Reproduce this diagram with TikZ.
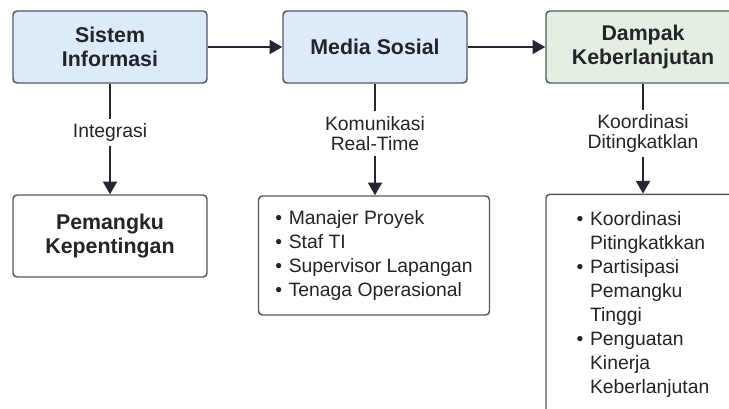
\documentclass[tikz,border=0pt]{standalone}
\usepackage{fontspec}
\setmainfont{Liberation Sans}
\usetikzlibrary{arrows.meta}

\begin{document}
\begin{tikzpicture}[x=0.75pt,y=0.75pt,yscale=-1,xscale=1,
  box/.style={draw={rgb, 255:red, 84; green, 88; blue, 96}, line width=1.1pt, rounded corners=3pt, align=center, inner sep=0pt, text={rgb, 255:red, 34; green, 36; blue, 40}, minimum width=145.5pt},
  headbox/.style={box, font=\fontsize{16}{18.5}\selectfont\bfseries, minimum height=54pt},
  listbox/.style={box, fill=white, font=\fontsize{14.5}{18}\selectfont},
  lbl/.style={align=center, inner xsep=2pt, inner ysep=3.5pt, font=\fontsize{14.5}{15}\selectfont, text={rgb, 255:red, 34; green, 36; blue, 40}},
  link/.style={line width=1.5pt, draw={rgb, 255:red, 36; green, 39; blue, 50}},
  arr/.style={link, -{Triangle[width=10.5pt,length=9.5pt]}}
]
\useasboundingbox (0,0) rectangle (729,409);

%Shape: top row
\node [headbox, fill={rgb, 255:red, 220; green, 234; blue, 249}] (sis) at (110,47) {Sistem\\Informasi};
\node [headbox, fill={rgb, 255:red, 220; green, 234; blue, 249}, minimum width=138pt] (med) at (375,47) {Media Sosial};
\node [headbox, fill={rgb, 255:red, 227; green, 240; blue, 225}] (dam) at (643,47) {Dampak\\Keberlanjutan};

% Text Node
\node [lbl] (int) at (110,132.5) {Integrasi};
\node [lbl] (kom) at (375,133.5) {Komunikasi\\Real-Time};
\node [lbl] (koo) at (643,133.5) {Koordinasi\\Ditingkatklan};

%Shape: bottom row
\node [headbox, fill=white, minimum height=61.5pt, font=\fontsize{16}{17.5}\selectfont\bfseries] (pem) at (110,236) {Pemangku\\Kepentingan};
\node [listbox, minimum width=173.25pt, minimum height=89.25pt] (mlist) at (374,255.5) {\begin{tabular}{@{}l@{\hspace{5pt}}l@{}}
\textbullet & Manajer Proyek\\
\textbullet & Staf TI\\
\textbullet & Supervisor Lapangan\\
\textbullet & Tenaga Operasional
\end{tabular}};
\node [listbox, minimum height=166pt] (dlist) at (643,305) {\begin{tabular}{@{}l@{\hspace{5pt}}l@{}}
\textbullet & Koordinasi\\
 & Pitingkatkkan\\
\textbullet & Partisipasi\\
 & Pemangku\\
 & Tinggi\\
\textbullet & Penguatan\\
 & Kinerja\\
 & Keberlanjutan
\end{tabular}};

% Connectors
\draw [arr] (sis) -- (med);
\draw [arr] (med) -- (dam);
\draw [link] (sis) -- (int);
\draw [arr] (int) -- (pem);
\draw [link] (med) -- (kom);
\draw [arr] (kom.south) -- (kom.south |- mlist.north);
\draw [link] (dam) -- (koo);
\draw [arr] (koo) -- (dlist);
\end{tikzpicture}
\end{document}
